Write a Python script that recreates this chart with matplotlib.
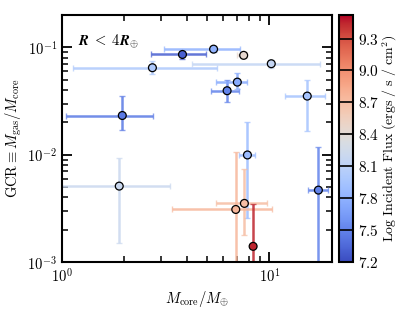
import numpy as np
import matplotlib
matplotlib.use("Agg")
import matplotlib.pyplot as plt
from matplotlib.ticker import FuncFormatter, NullFormatter

plt.rcParams["mathtext.fontset"] = "cm"
plt.rcParams["font.family"] = "serif"

# core mass, lower/upper bounds
mcore = [3.81, 2.73, 10.2, 5.38, 7.51, 7.0, 6.25, 15.2, 1.955, 1.89, 6.88, 7.83, 7.57, 8.34, 17.2]
mcore_lo = [2.68, 1.13, 4.23, 3.09, 6.98, 5.55, 5.23, 11.9, 1.05, 0.9, 3.39, 7.16, 5.53, 8.34, 15.3]
mcore_hi = [4.96, 5.59, 17.6, 7.24, 7.8, 7.8, 7.1, 18.6, 2.76, 3.3, 10.3, 8.55, 9.7, 8.34, 19.1]
# gas-to-core ratio, lower/upper bounds
gcr = [0.086, 0.0647, 0.0705, 0.0964, 0.0844, 0.0475, 0.0395, 0.0352, 0.0232, 0.0051,
       0.00309, 0.00995, 0.00352, 0.0014, 0.00468]
gcr_lo = [0.078, 0.057, 0.064, 0.091, 0.079, 0.041, 0.031, 0.0166, 0.0171, 0.0015,
          0.0005, 0.0026, 0.0018, 0.0005, 0.0005]
gcr_hi = [0.093, 0.074, 0.076, 0.101, 0.09, 0.058, 0.05, 0.0493, 0.035, 0.0093,
          0.0105, 0.020, 0.0073, 0.0035, 0.0117]
logflux = [7.3, 8.0, 8.15, 7.8, 8.45, 7.75, 7.5, 7.95, 7.45, 8.2, 8.75, 7.88, 8.7, 9.45, 7.5]

cbar_ticks = [7.2, 7.5, 7.8, 8.1, 8.4, 8.7, 9.0, 9.3]

fig = plt.figure(figsize=(4.15, 3.09), dpi=100)
ax = fig.add_axes([0.149, 0.152, 0.651, 0.799])
cax = fig.add_axes([0.817, 0.152, 0.034, 0.799])

cmap = plt.get_cmap("coolwarm")
norm = plt.Normalize(7.2, 9.52)

x = np.array(mcore)
y = np.array(gcr)
xerr = [x - np.array(mcore_lo), np.array(mcore_hi) - x]
yerr = [y - np.array(gcr_lo), np.array(gcr_hi) - y]

for i in np.argsort(logflux):
    c = cmap(norm(logflux[i]))
    line, caps, bars = ax.errorbar(x[i], y[i],
                                   xerr=[[xerr[0][i]], [xerr[1][i]]],
                                   yerr=[[yerr[0][i]], [yerr[1][i]]],
                                   fmt="none", ecolor=c, elinewidth=1.8,
                                   capsize=2, capthick=1, alpha=0.85, zorder=2)
    for cp in caps:
        cp.set_color("#5a5ae6")
        cp.set_alpha(0.7)
    if mcore_lo[i] == mcore_hi[i]:
        bars[0].set_visible(False)

sc = ax.scatter(x, y, c=logflux, cmap=cmap, norm=norm, s=32,
                edgecolors="k", linewidths=0.9, zorder=3)

ax.set_xscale("log")
ax.set_yscale("log")
ax.set_xlim(1, 20)
ax.set_ylim(1e-3, 0.2)

fmt = FuncFormatter(lambda v, p: r"$10^{%d}$" % round(np.log10(v)))
ax.xaxis.set_major_formatter(fmt)
ax.yaxis.set_major_formatter(fmt)
ax.xaxis.set_minor_formatter(NullFormatter())
ax.yaxis.set_minor_formatter(NullFormatter())
ax.tick_params(which="both", direction="in", top=True, right=True, labelsize=10.5)
ax.tick_params(which="major", length=7, width=1.3)
ax.tick_params(which="minor", length=4.5, width=1.1)
for s in ax.spines.values():
    s.set_linewidth(1.5)

ax.set_xlabel(r"$M_{\rm core}/M_{\oplus}$", fontsize=10.5, labelpad=3)
ax.set_ylabel(r"$\mathrm{GCR} \equiv M_{\rm gas}/M_{\rm core}$", fontsize=10.5, labelpad=2)
ax.text(0.06, 0.93, r"$\boldsymbol{R}\;\boldsymbol{<}\;\boldsymbol{4R}_{\boldsymbol{\oplus}}$",
        transform=ax.transAxes, fontsize=10.5, va="top", ha="left")

cb = fig.colorbar(sc, cax=cax, ticks=cbar_ticks)
cb.ax.yaxis.set_major_formatter(FuncFormatter(lambda v, p: r"$%.1f$" % v))
cb.ax.tick_params(direction="in", length=10, width=1.2, labelsize=11)
cb.outline.set_linewidth(1.5)
cb.set_label(r"$\mathrm{Log\ Incident\ Flux\ (ergs\ /\ s\ /\ cm^2)}$", fontsize=10, labelpad=1)

fig.savefig("out.png", dpi=100)
